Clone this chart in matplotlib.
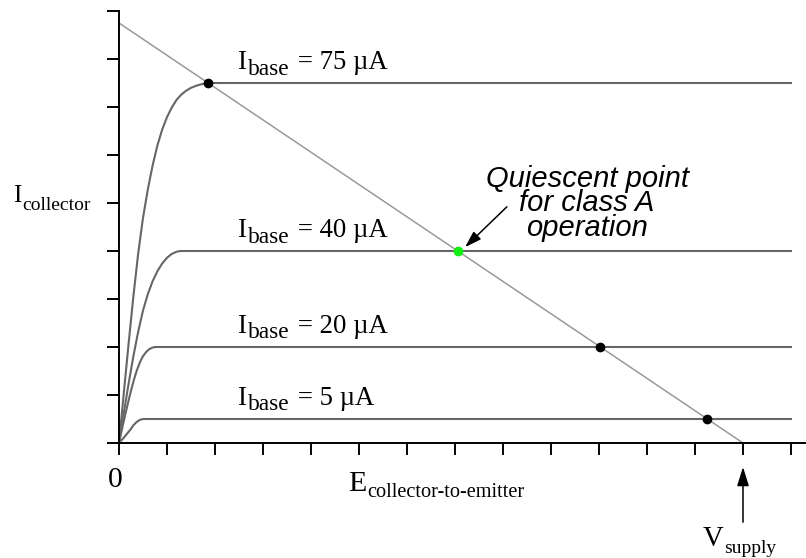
import numpy as np
import matplotlib.pyplot as plt

# ---- datos (unidades = divisiones de los ejes) ----
x_75 = [0, 0.1, 0.2, 0.3, 0.4, 0.5, 0.6, 0.7, 0.8, 0.9, 1.0, 1.1, 1.2, 1.3, 1.4,
        1.5, 1.6, 1.7, 1.8, 1.86, 14.0]
y_75 = [0, 1.04, 2.07, 3.06, 3.95, 4.69, 5.28, 5.78, 6.20, 6.53, 6.79, 6.99, 7.15,
        7.26, 7.34, 7.40, 7.44, 7.47, 7.49, 7.50, 7.50]

x_40 = [0, 0.1, 0.2, 0.3, 0.4, 0.5, 0.6, 0.7, 0.8, 0.9, 1.0, 1.1, 1.2, 1.28, 14.0]
y_40 = [0, 0.625, 1.235, 1.81, 2.32, 2.76, 3.10, 3.37, 3.58, 3.74, 3.86, 3.94, 3.985,
        4.00, 4.00]

x_20 = [0, 0.08, 0.16, 0.23, 0.30, 0.37, 0.44, 0.50, 0.57, 0.63, 0.69, 0.75, 14.0]
y_20 = [0, 0.37, 0.72, 1.01, 1.28, 1.51, 1.69, 1.81, 1.90, 1.955, 1.985, 2.00, 2.00]

x_5 = [0, 0.09, 0.23, 0.30, 0.37, 0.44, 0.51, 14.0]
y_5 = [0, 0.10, 0.27, 0.37, 0.44, 0.485, 0.50, 0.50]

load_x = [0, 13]
load_y = [8.75, 0]

# puntos de operacion sobre la recta de carga
op_x = [1.86, 7.06, 10.03, 12.26]
op_y = [7.5, 4.0, 2.0, 0.5]
op_col = ['black', '#11ee11', 'black', 'black']

base_labels = ['75', '40', '20', '5']
label_y = [7.79, 4.29, 2.30, 0.80]

SERIF = 'Liberation Serif'

fig, ax = plt.subplots(figsize=(8.06, 5.58), dpi=100)
ax.set_position([119/806, 115/558, 686.4/806, 432/558])
ax.set_xlim(0, 14.3)
ax.set_ylim(0, 9)

for xs, ys in [(x_75, y_75), (x_40, y_40), (x_20, y_20), (x_5, y_5)]:
    ax.plot(xs, ys, color='#666666', linewidth=1.5, solid_joinstyle='round')

ax.plot(load_x, load_y, color='#999999', linewidth=1.1)

for x, y, c in zip(op_x, op_y, op_col):
    ax.plot(x, y, 'o', color=c, markersize=6, zorder=5)

# ejes
for s in ['top', 'right']:
    ax.spines[s].set_visible(False)
for s in ['left', 'bottom']:
    ax.spines[s].set_linewidth(1.4)
ax.set_xticks(range(15))
ax.set_yticks(range(10))
ax.set_xticklabels([])
ax.set_yticklabels([])
ax.tick_params(direction='out', length=8.6, width=1.4, color='black')


def sub_label(x, y, parts, ha='left'):
    # parts: (texto, tamaño, bajada en px)
    r = fig.canvas.get_renderer()
    objs = []
    for txt, size, drop in parts:
        a = ax.annotate(txt, (x, y), xytext=(0, -drop), textcoords='offset pixels',
                        fontsize=size, family=SERIF, va='baseline', ha='left',
                        annotation_clip=False)
        objs.append(a)
    widths = [a.get_window_extent(r).width + 1 for a in objs]
    dx = -sum(widths) / 2 if ha == 'center' else 0
    for a, w, (txt, size, drop) in zip(objs, widths, parts):
        a.xyann = (dx, -drop)
        dx += w


for lab, y in zip(base_labels, label_y):
    sub_label(2.48, y, [('I', 19.3, 0), ('base', 16.8, 5.5), (' = ' + lab + ' µA', 19.3, 0)])

sub_label(-2.21, 5.03, [('I', 18, 0), ('collector', 14, 8)])
sub_label(4.77, -1.01, [('E', 21.5, 0), ('collector-to-emitter', 14.6, 6)])
sub_label(12.93, -2.14, [('V', 20.7, 0), ('supply', 14, 7)], ha='center')
ax.text(-0.08, -0.92, '0', fontsize=21.3, family=SERIF, ha='center', va='baseline')

ax.text(9.75, 5.8, 'Quiescent point\nfor class A\noperation', family='Liberation Sans',
        style='italic', fontsize=21, ha='center', va='top', linespacing=0.84)
ax.annotate('', xy=(7.21, 4.08), xytext=(8.08, 4.92),
            arrowprops=dict(arrowstyle='-|>,head_length=1.0,head_width=0.32',
                            color='black', lw=1.1, shrinkA=0, shrinkB=0))
ax.annotate('', xy=(13.0, -0.5), xytext=(13.0, -1.65), annotation_clip=False,
            arrowprops=dict(arrowstyle='-|>,head_length=1.15,head_width=0.36',
                            color='black', lw=1.1, shrinkA=0, shrinkB=0))

fig.savefig('out.png', dpi=100)
